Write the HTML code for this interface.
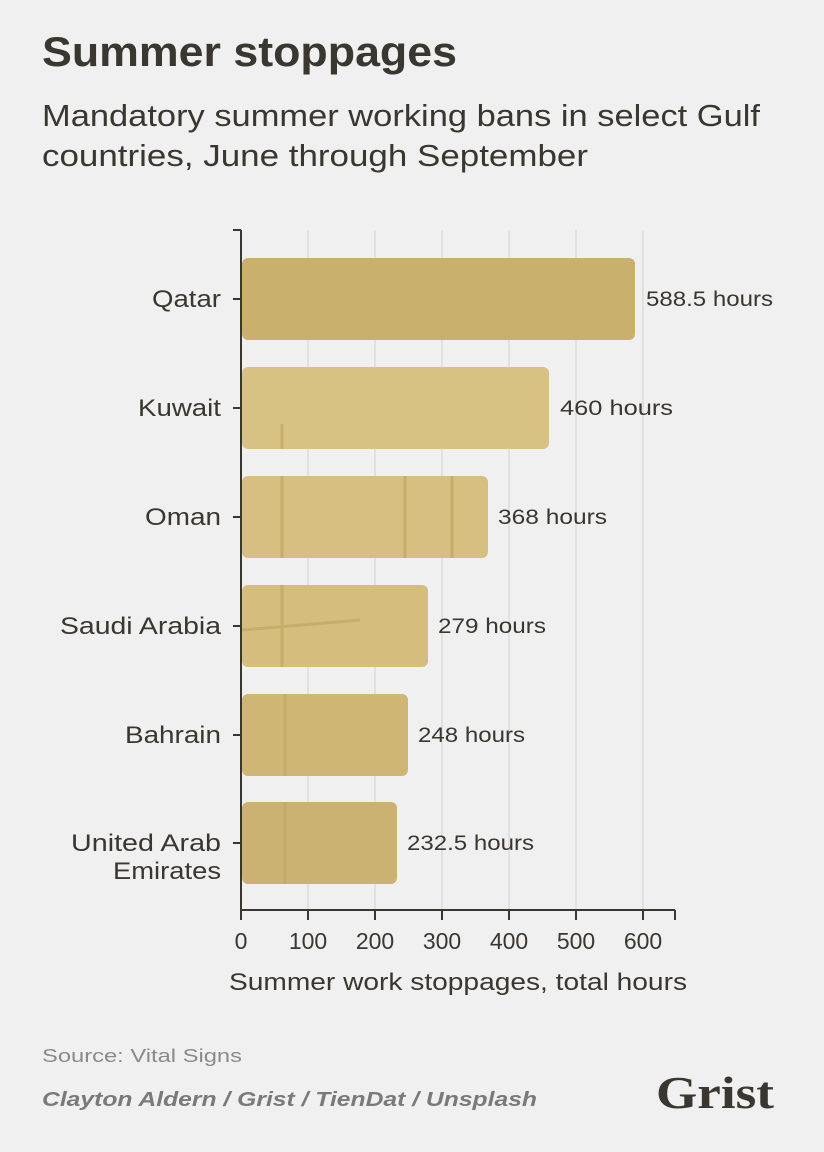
<!DOCTYPE html>
<html><head><meta charset="utf-8"><style>
html,body{margin:0;padding:0;background:#f0f0f0;}
svg{display:block;font-family:"Liberation Sans",sans-serif;}
</style></head><body>
<svg width="824" height="1152" viewBox="0 0 824 1152" xmlns="http://www.w3.org/2000/svg">
<rect width="824" height="1152" fill="#f0f0f0"/>
<text x="42" y="66" font-size="42" font-weight="bold" fill="#3a3630" textLength="415" lengthAdjust="spacingAndGlyphs">Summer stoppages</text>
<text x="42" y="126" font-size="31" fill="#3a3630" textLength="718" lengthAdjust="spacingAndGlyphs">Mandatory summer working bans in select Gulf</text>
<text x="42" y="166" font-size="31" fill="#3a3630" textLength="546" lengthAdjust="spacingAndGlyphs">countries, June through September</text>
<g stroke="#dcdcdc" stroke-width="1.5">
<line x1="308" y1="230" x2="308" y2="910"/><line x1="375" y1="230" x2="375" y2="910"/>
<line x1="442" y1="230" x2="442" y2="910"/><line x1="509" y1="230" x2="509" y2="910"/>
<line x1="576" y1="230" x2="576" y2="910"/><line x1="643" y1="230" x2="643" y2="910"/>
</g>
<g>
<rect x="242" y="258" width="393" height="82" rx="6" fill="#c9b06d"/>
<rect x="242" y="367" width="307" height="82" rx="6" fill="#d8c283"/>
<rect x="242" y="476" width="246" height="82" rx="6" fill="#d6bf80"/>
<rect x="242" y="585" width="186" height="82" rx="6" fill="#d4bd7d"/>
<rect x="242" y="694" width="166" height="82" rx="6" fill="#cfb675"/>
<rect x="242" y="802" width="155" height="82" rx="6" fill="#cbb272"/>
</g>
<g stroke="#bfa763" stroke-width="3" opacity="0.7">
<line x1="282" y1="424" x2="282" y2="449"/><line x1="282" y1="476" x2="282" y2="558"/>
<line x1="405" y1="476" x2="405" y2="558"/><line x1="452" y1="476" x2="452" y2="558"/>
<line x1="282" y1="585" x2="282" y2="667"/><line x1="242" y1="630" x2="360" y2="620"/>
<line x1="285" y1="694" x2="285" y2="776"/><line x1="285" y1="802" x2="285" y2="884"/>
</g>
<g stroke="#3a3630" stroke-width="2" fill="none">
<line x1="241" y1="230" x2="241" y2="911"/>
<line x1="240" y1="910" x2="675" y2="910"/>
<line x1="233" y1="230" x2="241" y2="230"/>
<line x1="233" y1="299" x2="241" y2="299"/><line x1="233" y1="408" x2="241" y2="408"/>
<line x1="233" y1="517" x2="241" y2="517"/><line x1="233" y1="626" x2="241" y2="626"/>
<line x1="233" y1="735" x2="241" y2="735"/><line x1="233" y1="843" x2="241" y2="843"/>
<line x1="241" y1="910" x2="241" y2="920"/><line x1="308" y1="910" x2="308" y2="920"/>
<line x1="375" y1="910" x2="375" y2="920"/><line x1="442" y1="910" x2="442" y2="920"/>
<line x1="509" y1="910" x2="509" y2="920"/><line x1="576" y1="910" x2="576" y2="920"/>
<line x1="643" y1="910" x2="643" y2="920"/><line x1="675" y1="910" x2="675" y2="920"/>
</g>
<g font-size="24" fill="#3a3630" text-anchor="end">
<text x="221" y="307" textLength="69" lengthAdjust="spacingAndGlyphs">Qatar</text>
<text x="221" y="416" textLength="83" lengthAdjust="spacingAndGlyphs">Kuwait</text>
<text x="221" y="525" textLength="76" lengthAdjust="spacingAndGlyphs">Oman</text>
<text x="221" y="634" textLength="161" lengthAdjust="spacingAndGlyphs">Saudi Arabia</text>
<text x="221" y="743" textLength="96" lengthAdjust="spacingAndGlyphs">Bahrain</text>
<text x="221" y="851" textLength="150" lengthAdjust="spacingAndGlyphs">United Arab</text>
<text x="221" y="879" textLength="108" lengthAdjust="spacingAndGlyphs">Emirates</text>
</g>
<g font-size="21" fill="#3a3630">
<text x="646" y="306" textLength="127" lengthAdjust="spacingAndGlyphs">588.5 hours</text>
<text x="560" y="415" textLength="113" lengthAdjust="spacingAndGlyphs">460 hours</text>
<text x="498" y="524" textLength="109" lengthAdjust="spacingAndGlyphs">368 hours</text>
<text x="438" y="633" textLength="108" lengthAdjust="spacingAndGlyphs">279 hours</text>
<text x="418" y="742" textLength="107" lengthAdjust="spacingAndGlyphs">248 hours</text>
<text x="407" y="850" textLength="127" lengthAdjust="spacingAndGlyphs">232.5 hours</text>
</g>
<g font-size="23" fill="#3a3630" text-anchor="middle">
<text x="241" y="949">0</text><text x="308" y="949">100</text><text x="375" y="949">200</text>
<text x="442" y="949">300</text><text x="509" y="949">400</text><text x="576" y="949">500</text>
<text x="643" y="949">600</text>
</g>
<text x="458" y="990" font-size="24" fill="#3a3630" text-anchor="middle" textLength="458" lengthAdjust="spacingAndGlyphs">Summer work stoppages, total hours</text>
<text x="42" y="1062" font-size="18" fill="#8a8a8a" textLength="200" lengthAdjust="spacingAndGlyphs">Source: Vital Signs</text>
<text x="42" y="1106" font-size="20" font-weight="bold" font-style="italic" fill="#7a7a7a" textLength="495" lengthAdjust="spacingAndGlyphs">Clayton Aldern / Grist / TienDat / Unsplash</text>
<text x="656" y="1108" font-family="Liberation Serif,serif" font-size="46" font-weight="bold" fill="#3a3630" textLength="118" lengthAdjust="spacingAndGlyphs">Grist</text>
</svg>
</body></html>
